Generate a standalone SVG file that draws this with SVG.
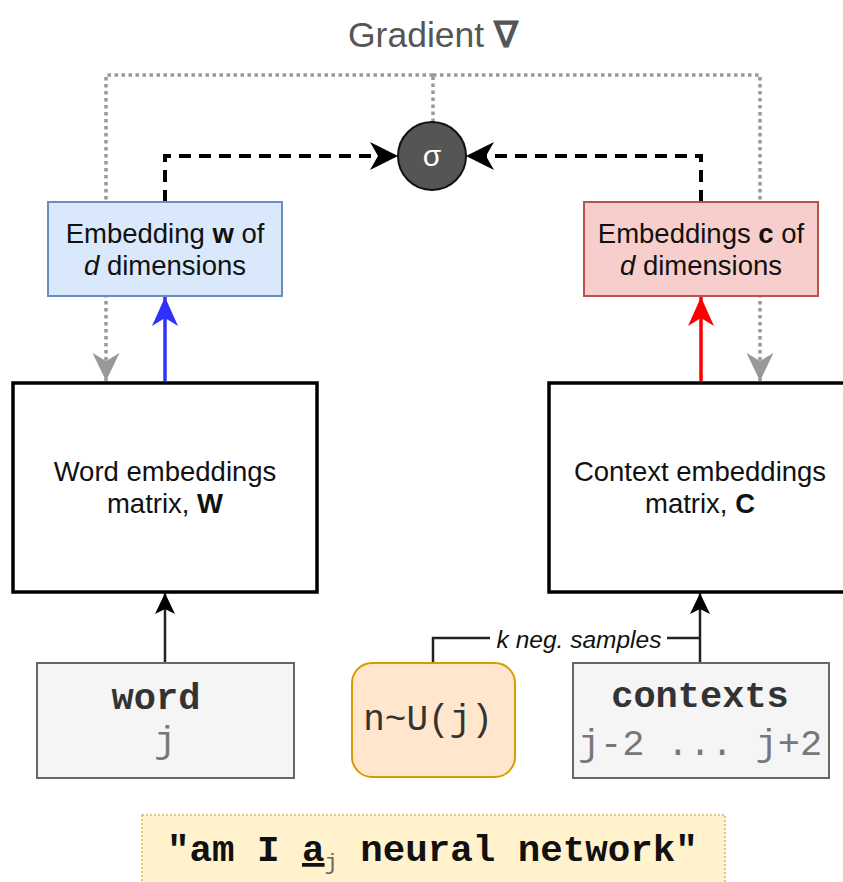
<svg xmlns="http://www.w3.org/2000/svg" width="843" height="882" viewBox="0 0 843 882">
<style>
.sans{font-family:"Liberation Sans",Arial,sans-serif;}
.mono{font-family:"Liberation Mono","Courier New",monospace;}
.lbl{font-size:27.5px;fill:#111;text-anchor:middle;}
.b{font-weight:bold;}
.i{font-style:italic;}
.matrix{fill:#fff;stroke:#000;stroke-width:3.5;}
.dash{fill:none;stroke:#000;stroke-width:4;stroke-dasharray:12 8;}
.dot{fill:none;stroke:#999;stroke-width:3.5;stroke-dasharray:3.5 3.5;}
.thin{fill:none;stroke:#222;stroke-width:2.5;}
.input{fill:#f5f5f5;stroke:#666;stroke-width:2;}
</style>
<defs>
<marker id="ahBlack" viewBox="0 0 28 28" refX="28" refY="14" markerWidth="28" markerHeight="28" markerUnits="userSpaceOnUse" orient="auto"><path d="M0,0 L28,14 L0,28 L8,14 Z" fill="#000"/></marker>
<marker id="ahBlue" viewBox="0 0 29 26" refX="29" refY="13" markerWidth="29" markerHeight="26" markerUnits="userSpaceOnUse" orient="auto"><path d="M0,0 L29,13 L0,26 L8,13 Z" fill="#3030ff"/></marker>
<marker id="ahRed" viewBox="0 0 29 26" refX="29" refY="13" markerWidth="29" markerHeight="26" markerUnits="userSpaceOnUse" orient="auto"><path d="M0,0 L29,13 L0,26 L8,13 Z" fill="#ff0000"/></marker>
<marker id="ahGray" viewBox="0 0 28 27" refX="28" refY="13.5" markerWidth="28" markerHeight="27" markerUnits="userSpaceOnUse" orient="auto"><path d="M0,0 L28,13.5 L0,27 L8,13.5 Z" fill="#999"/></marker>
<marker id="ahSmall" viewBox="0 0 21 20" refX="21" refY="10" markerWidth="21" markerHeight="20" markerUnits="userSpaceOnUse" orient="auto"><path d="M0,0 L21,10 L0,20 L5,10 Z" fill="#000"/></marker>
</defs>
<rect width="843" height="882" fill="#fff"/>

<g id="title">
<text x="433" y="47" class="sans" font-size="35.5" fill="#555" text-anchor="middle">Gradient <tspan font-weight="bold">∇</tspan></text>
</g>

<g id="connectors">
<path class="dot" d="M433,122 L433,75"/>
<path class="dot" d="M433,75 L106,75 L106,381" marker-end="url(#ahGray)"/>
<path class="dot" d="M433,75 L760,75 L760,381" marker-end="url(#ahGray)"/>
<path class="dash" d="M165,202 L165,156 L398,156" marker-end="url(#ahBlack)"/>
<path class="dash" d="M701,202 L701,156 L466,156" marker-end="url(#ahBlack)"/>
<path d="M165,381 L165,297" fill="none" stroke="#3030ff" stroke-width="3.5" marker-end="url(#ahBlue)"/>
<path d="M701,381 L701,297" fill="none" stroke="#ff0000" stroke-width="3.5" marker-end="url(#ahRed)"/>
<path class="thin" d="M165,663 L165,593" marker-end="url(#ahSmall)"/>
<path class="thin" d="M700,663 L700,593" marker-end="url(#ahSmall)"/>
<path class="thin" d="M433,663 L433,638 L700,638"/>
<rect x="490" y="624" width="177" height="30" fill="#fff"/>
<text x="579" y="648" class="sans i" font-size="24.5" fill="#111" text-anchor="middle">k neg. samples</text>
</g>

<g id="sigma">
<circle cx="432" cy="156" r="34" fill="#555" stroke="#111" stroke-width="2"/>
<text x="432" y="166" class="sans" font-size="30" fill="#fff" text-anchor="middle">σ</text>
</g>

<g id="embedding-w">
<rect x="48" y="202" width="234" height="94" fill="#dae8fc" stroke="#6c8ebf" stroke-width="2"/>
<text x="165" y="243" class="sans lbl">Embedding <tspan class="b">w</tspan> of</text>
<text x="165" y="275" class="sans lbl"><tspan class="i">d</tspan> dimensions</text>
</g>

<g id="embedding-c">
<rect x="584" y="202" width="234" height="94" fill="#f8cecc" stroke="#b85450" stroke-width="2"/>
<text x="701" y="243" class="sans lbl">Embeddings <tspan class="b">c</tspan> of</text>
<text x="701" y="275" class="sans lbl"><tspan class="i">d</tspan> dimensions</text>
</g>

<g id="matrix-w">
<rect class="matrix" x="13" y="383" width="304" height="209"/>
<text x="165" y="481" class="sans lbl">Word embeddings</text>
<text x="165" y="513" class="sans lbl">matrix, <tspan class="b">W</tspan></text>
</g>

<g id="matrix-c">
<rect class="matrix" x="549" y="383" width="304" height="209"/>
<text x="700" y="481" class="sans lbl">Context embeddings</text>
<text x="700" y="513" class="sans lbl">matrix, <tspan class="b">C</tspan></text>
</g>

<g id="word">
<rect class="input" x="37" y="663" width="257" height="115"/>
<text x="156" y="709" class="mono b" font-size="37" fill="#333" text-anchor="middle">word</text>
<text x="165" y="752" class="mono" font-size="37" fill="#777" text-anchor="middle">j</text>
</g>

<g id="sampler">
<rect x="352" y="663" width="163" height="114" rx="20" ry="20" fill="#ffe6cc" stroke="#d79b00" stroke-width="2"/>
<text x="428" y="730" class="mono" font-size="36" fill="#333" text-anchor="middle">n~U(j)</text>
</g>

<g id="contexts">
<rect class="input" x="573" y="663" width="256" height="115"/>
<text x="700" y="707" class="mono b" font-size="37" fill="#333" text-anchor="middle">contexts</text>
<text x="700" y="755" class="mono" font-size="37" fill="#777" text-anchor="middle">j-2 ... j+2</text>
</g>

<g id="sentence">
<rect x="142" y="815" width="583" height="80" fill="#fff2cc" stroke="#d6b656" stroke-width="1.5" stroke-dasharray="2 2"/>
<text x="167" y="861" class="mono b" font-size="37.5" fill="#111">"am I <tspan text-decoration="underline">a</tspan><tspan font-size="22" font-weight="normal" fill="#666" dy="8">j</tspan><tspan dy="-8"> neural network"</tspan></text>
</g>
</svg>
